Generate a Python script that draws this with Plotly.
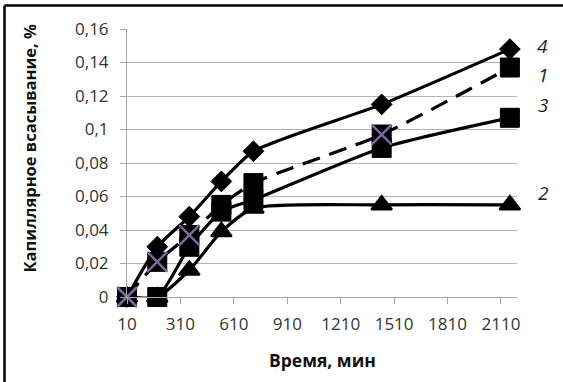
import plotly.graph_objects as go

# ---- data ----
time_min = [10, 180, 360, 540, 720, 1440, 2160]
series_1 = [0, 0.021, 0.037, 0.055, 0.068, 0.097, 0.137]
series_2 = [0, 0, 0.016, 0.039, 0.053, 0.055, 0.055]
series_3 = [0, 0, 0.030, 0.051, 0.058, 0.089, 0.107]
series_4 = [0, 0.030, 0.048, 0.069, 0.087, 0.115, 0.148]
cross_marks = [0, 0.021, 0.037, None, None, 0.097, None]

y_tick_vals = [0, 0.02, 0.04, 0.06, 0.08, 0.10, 0.12, 0.14, 0.16]
y_tick_text = ["0", "0,02", "0,04", "0,06", "0,08", "0,1", "0,12", "0,14", "0,16"]
x_tick_vals = [10, 310, 610, 910, 1210, 1510, 1810, 2110]
x_tick_text = ["10", "310", "610", "910", "1210", "1510", "1810", "2110"]

y_title = "Капиллярное всасывание, %"
x_title = "Время, мин"

FONT = "Open Sans"
BLACK = "#000000"
PURPLE = "#8064A2"

fig = go.Figure()

line_common = dict(color=BLACK, width=3.2, shape="spline", smoothing=0.6)

fig.add_trace(go.Scatter(
    x=time_min, y=series_2, name="2", mode="lines+markers", cliponaxis=False,
    line=line_common,
    marker=dict(symbol="triangle-up", size=18, color=BLACK, line=dict(color=BLACK, width=2)),
))
fig.add_trace(go.Scatter(
    x=time_min, y=series_3, name="3", mode="lines+markers", cliponaxis=False,
    line=line_common,
    marker=dict(symbol="square", size=19, color=BLACK, line=dict(color=BLACK, width=1)),
))
fig.add_trace(go.Scatter(
    x=time_min, y=series_4, name="4", mode="lines+markers", cliponaxis=False,
    line=line_common,
    marker=dict(symbol="diamond", size=16, color=BLACK, line=dict(color=BLACK, width=1)),
))
fig.add_trace(go.Scatter(
    x=time_min, y=series_1, name="1", mode="lines+markers", cliponaxis=False,
    line=dict(color=BLACK, width=3.2, shape="spline", smoothing=0.6, dash="18px,10px"),
    marker=dict(symbol="square", size=19, color=BLACK, line=dict(color=BLACK, width=1)),
))
fig.add_trace(go.Scatter(
    x=time_min, y=cross_marks, name="x", mode="markers", cliponaxis=False,
    marker=dict(symbol="x-thin-open", size=20, color=PURPLE, line=dict(color=PURPLE, width=2.5)),
))

# curve labels at the right end
label_specs = [("4", series_4, 3), ("1", series_1, -7.5), ("3", series_3, 12.8), ("2", series_2, 11.4)]
for txt, ser, ys in label_specs:
    fig.add_annotation(
        x=time_min[-1], y=ser[-1], xref="x", yref="y", text=txt, showarrow=False,
        xshift=33, yshift=ys, xanchor="center", yanchor="middle",
        font=dict(family=FONT, size=19, color="#222222", style="italic"),
    )

# axis titles
fig.add_annotation(
    x=-0.2487, y=0.554, xref="paper", yref="paper", text="<b>" + y_title + "</b>",
    showarrow=False, textangle=-90, xanchor="center", yanchor="middle",
    font=dict(family=FONT, size=16.5, color="#111111"),
)
fig.add_annotation(
    x=0.5, y=-0.235, xref="paper", yref="paper", text="<b>" + x_title + "</b>",
    showarrow=False, xanchor="center", yanchor="middle",
    font=dict(family=FONT, size=17.5, color="#111111"),
)

# outer frame (top and left edges visible)
fig.add_shape(type="line", xref="paper", yref="paper", x0=-0.3141, x1=-0.3141, y0=-0.33, y1=1.0877,
              line=dict(color=BLACK, width=2.5))
fig.add_shape(type="line", xref="paper", yref="paper", x0=-0.3141, x1=1.13, y0=1.0877, y1=1.0877,
              line=dict(color=BLACK, width=2.5))

fig.update_layout(
    width=563, height=382,
    margin=dict(l=127, r=46, t=29, b=85),
    paper_bgcolor="white", plot_bgcolor="white",
    showlegend=False,
    font=dict(family=FONT, size=17, color="#333333"),
    xaxis=dict(
        range=[10, 2200], tickvals=x_tick_vals, ticktext=x_tick_text,
        showgrid=False, zeroline=False, showline=True, linecolor="#a6a6a6", linewidth=1,
        ticks="outside", ticklen=6, tickcolor="#a6a6a6", tickfont=dict(size=17, color="#333333"),
        ticklabelstandoff=6,
    ),
    yaxis=dict(
        range=[0, 0.16], tickvals=y_tick_vals, ticktext=y_tick_text,
        showgrid=True, gridcolor="#b3b3b3", gridwidth=1, zeroline=False,
        showline=True, linecolor="#a6a6a6", linewidth=1,
        ticks="outside", ticklen=6, tickcolor="#a6a6a6", tickfont=dict(size=17, color="#333333"),
        ticklabelstandoff=8,
    ),
)

fig.write_html("out.html")
